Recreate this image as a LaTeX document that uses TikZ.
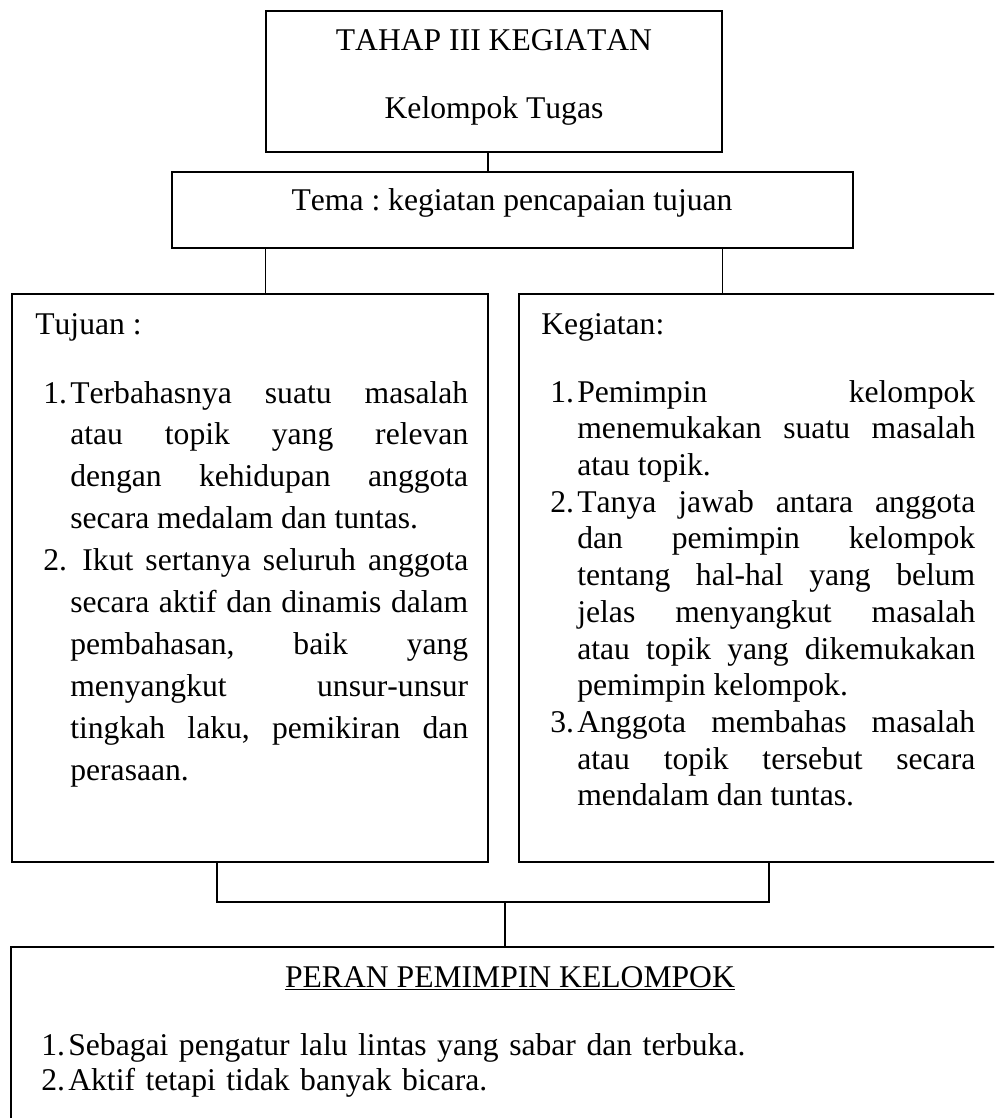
\documentclass[tikz,border=0pt]{standalone}
\usepackage{fontspec}
\setmainfont{Liberation Serif}[Kerning=Off]

\tikzset{
  kotak/.style={draw, line width=1.1pt, inner sep=0pt},
  garis/.style={line width=0.6pt},
  teks/.style={inner sep=0pt, font=\fontsize{18}{21}\selectfont},
  daftar/.style={inner sep=0pt, anchor=base west, text width=8.5cm, align=justify}
}
\newcommand{\butir}[2]{\hangindent=0.54cm\hangafter=1\noindent\makebox[0.54cm][l]{#1}#2\par}

\begin{document}
\frenchspacing
\begin{tikzpicture}[x=0.02cm,y=-0.02cm]
  \useasboundingbox (0,0) rectangle (994,1118);
  \clip (0,0) rectangle (994,1118);
  % kotak
  \node[kotak, minimum width=9.12cm, minimum height=2.82cm] (tahap) at (494,81.5) {};
  \node[kotak, minimum width=13.62cm, minimum height=1.52cm] (tema) at (512.5,210) {};
  \node[kotak, minimum width=9.52cm, minimum height=11.36cm] (tujuan) at (250,578) {};
  \node[kotak, minimum width=9.82cm, minimum height=11.36cm] (kegiatan) at (764.5,578) {};
  \node[kotak, minimum width=19.98cm, minimum height=3.86cm] (peran) at (510.5,1043.5) {};
  % teks
  \node[teks, anchor=base] (judul) at (494,51) {TAHAP III KEGIATAN};
  \node[teks, anchor=base] (subjudul) at (494,119) {Kelompok Tugas};
  \node[teks, anchor=base] (temateks) at (512,211) {Tema : kegiatan pencapaian tujuan};
  \node[teks, anchor=base west] (tujuanjudul) at (35,335) {Tujuan :};
  \node[teks, anchor=base west] (kegiatanjudul) at (541,335) {Kegiatan:};
  \node[daftar, font=\fontsize{18}{23.9}\selectfont] (tujuanisi) at (43,403) {\tolerance=10000\hyphenpenalty=10000\exhyphenpenalty=10000
    \butir{1.}{Terbahasnya suatu masalah\linebreak atau topik yang relevan\linebreak dengan kehidupan anggota\linebreak secara medalam dan tuntas.}
    \butir{2.}{\ Ikut sertanya seluruh anggota\linebreak secara aktif dan dinamis dalam\linebreak pembahasan, baik yang\linebreak menyangkut unsur-unsur\linebreak tingkah laku, pemikiran dan\linebreak perasaan.}};
  \node[daftar, font=\fontsize{18}{20.9}\selectfont] (kegiatanisi) at (550,402) {\tolerance=10000\hyphenpenalty=10000\exhyphenpenalty=10000
    \butir{1.}{Pemimpin kelompok\linebreak menemukakan suatu masalah\linebreak atau topik.}
    \butir{2.}{Tanya jawab antara anggota\linebreak dan pemimpin kelompok\linebreak tentang hal-hal yang belum\linebreak jelas menyangkut masalah\linebreak atau topik yang dikemukakan\linebreak pemimpin kelompok.}
    \butir{3.}{Anggota membahas masalah\linebreak atau topik tersebut secara\linebreak mendalam dan tuntas.}};
  \node[teks, anchor=base] (peranjudul) at (510,987) {\underline{PERAN PEMIMPIN KELOMPOK}};
  \node[daftar, text width=18cm, align=left, font=\fontsize{18}{20.2}\selectfont] (peranisi) at (41,1055) {
    \butir{1.}{Sebagai pengatur lalu lintas yang sabar dan terbuka.}
    \butir{2.}{Aktif tetapi tidak banyak bicara.}};
  % penghubung
  \coordinate (atas) at ([xshift=-0.12cm]tahap.south);
  \coordinate (sikukiri) at (217,902);
  \coordinate (sikukanan) at (769,902);
  \coordinate (tengah) at (505,902);
  \draw[garis] (atas) -- (tema.north -| atas);
  \draw[garis] (tema.south -| tahap.west) -- (tujuan.north -| tahap.west);
  \draw[garis] (tema.south -| tahap.east) -- (kegiatan.north -| tahap.east);
  \draw[garis] (tujuan.south -| sikukiri) -- (sikukiri) -- (sikukanan) -- (kegiatan.south -| sikukanan);
  \draw[garis] (tengah) -- (peran.north -| tengah);
\end{tikzpicture}
\end{document}
